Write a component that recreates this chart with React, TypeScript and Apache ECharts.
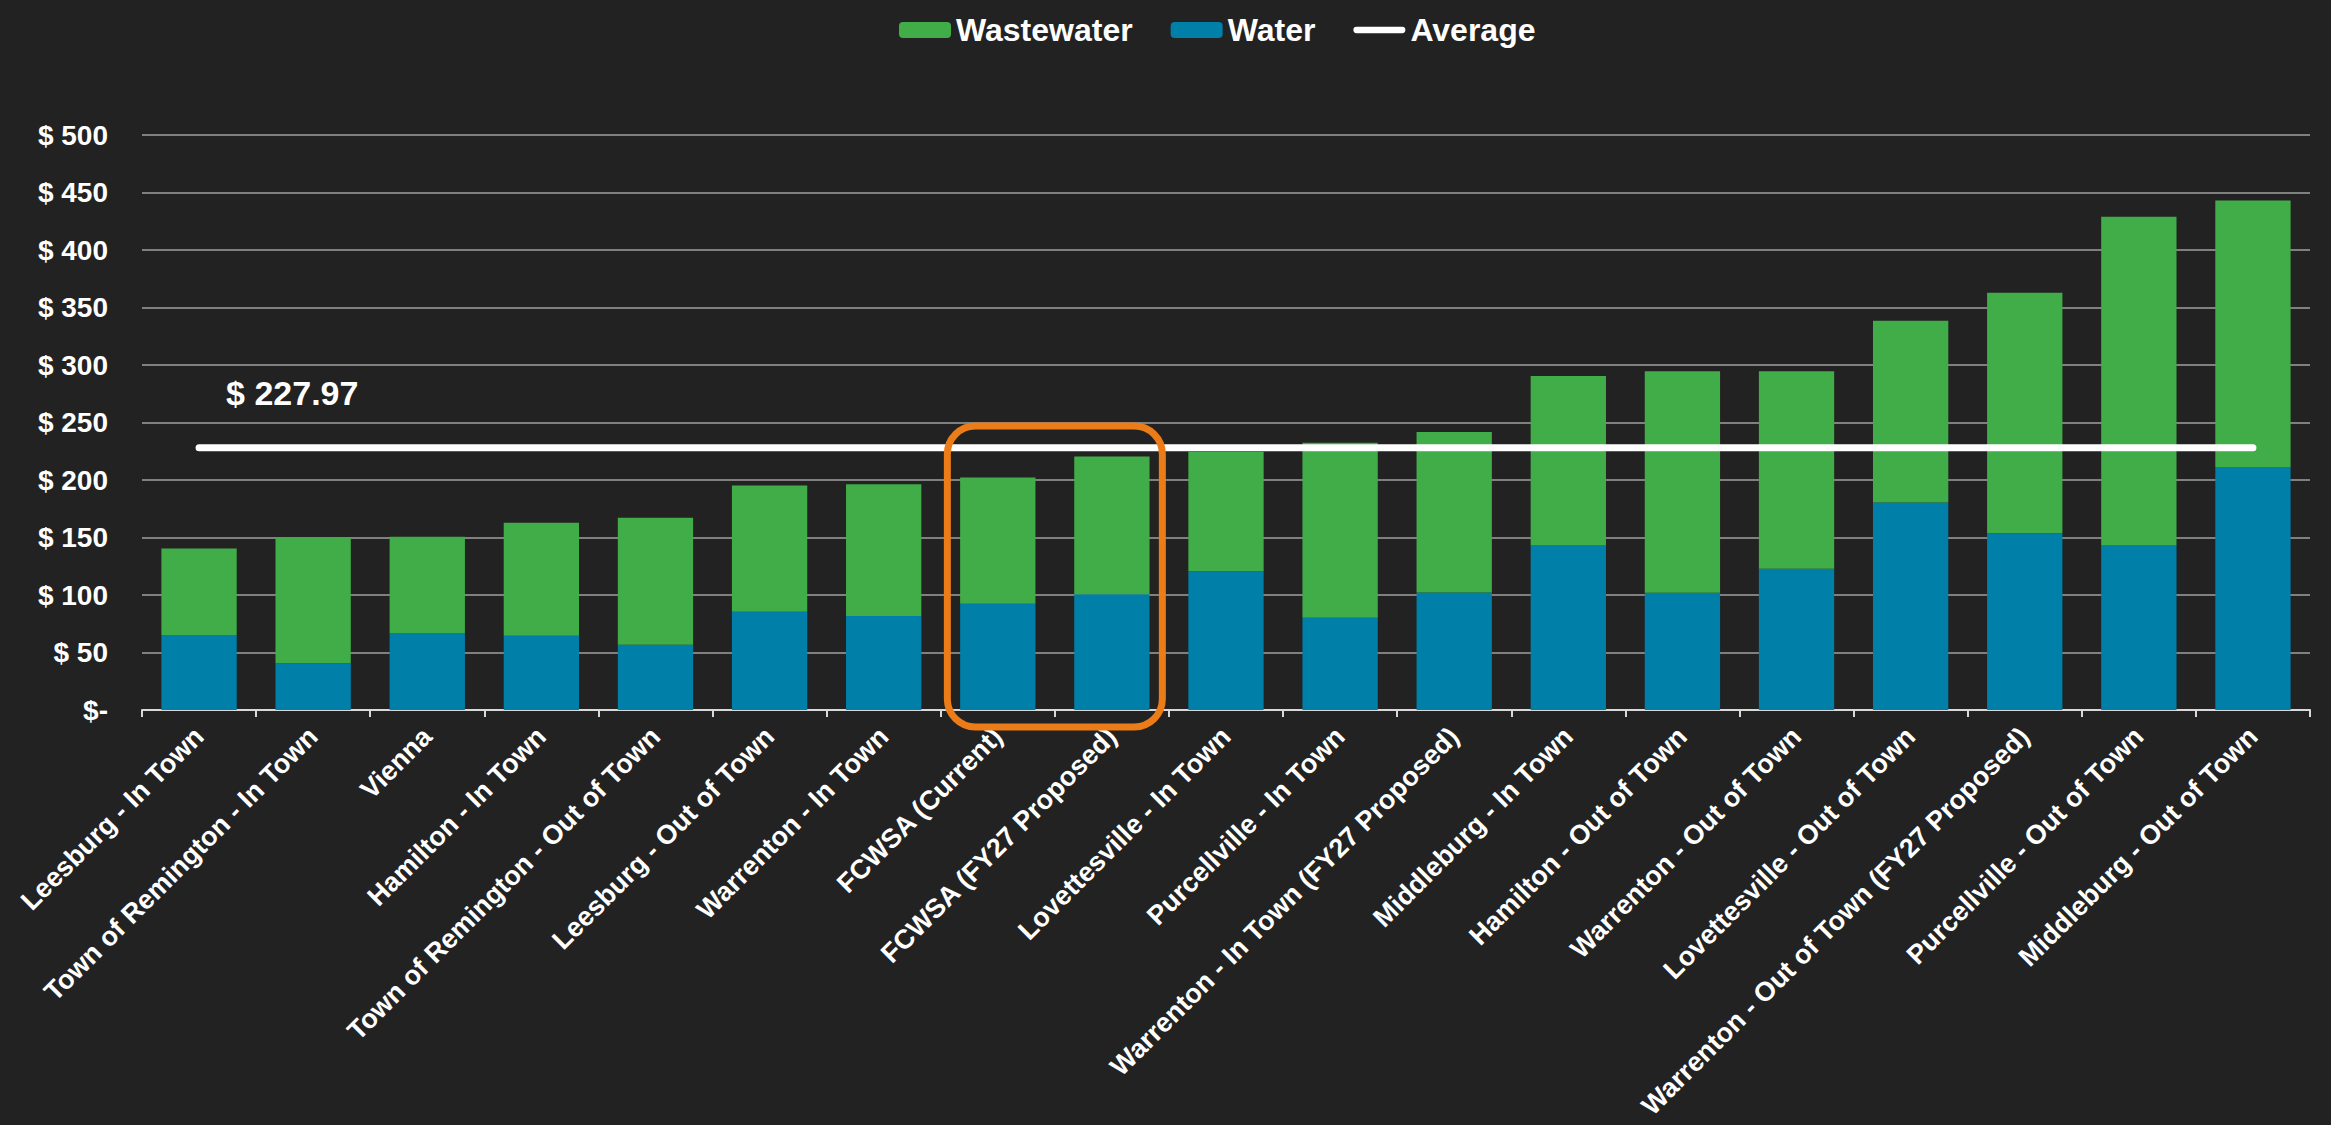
import React, { useEffect, useRef } from "react";
import * as echarts from "echarts";

const categories = [
  "Leesburg - In Town",
  "Town of Remington - In Town",
  "Vienna",
  "Hamilton - In Town",
  "Town of Remington - Out of Town",
  "Leesburg - Out of Town",
  "Warrenton - In Town",
  "FCWSA (Current)",
  "FCWSA (FY27 Proposed)",
  "Lovettesville - In Town",
  "Purcellville - In Town",
  "Warrenton - In Town (FY27 Proposed)",
  "Middleburg - In Town",
  "Hamilton - Out of Town",
  "Warrenton - Out of Town",
  "Lovettesville - Out of Town",
  "Warrenton - Out of Town (FY27 Proposed)",
  "Purcellville - Out of Town",
  "Middleburg - Out of Town",
];

const water = [65.3, 40.6, 67.0, 64.5, 56.7, 85.5, 81.7, 92.5, 100.6, 120.7, 80.3, 102.2, 143.1, 101.9, 122.8, 180.5, 153.8, 143.1, 211.2];
const wastewater = [75.1, 109.4, 83.6, 98.3, 110.5, 109.8, 114.5, 109.6, 119.8, 103.8, 152.1, 139.6, 147.4, 192.7, 171.8, 157.9, 209.0, 285.8, 231.9];
const AVERAGE = 227.97;
const yTicks = [0, 50, 100, 150, 200, 250, 300, 350, 400, 450, 500];
const highlighted = [7, 8];

const FONT = "'Liberation Sans', Arial, sans-serif";
const GREEN = "#41AD49";
const BLUE = "#007FA8";
const ORANGE = "#EC7C17";
const LINE_ICON = "path://M3.5,0 H54.5 A3.5,3.5 0 0 1 54.5,7 H3.5 A3.5,3.5 0 0 1 3.5,0 Z";

export default function App() {
  const ref = useRef<HTMLDivElement>(null);

  useEffect(() => {
    document.body.style.margin = "0";
    const chart = echarts.init(ref.current!, null, { renderer: "svg", width: 2331, height: 1125 });
    const option: any = {
      animation: false,
      backgroundColor: "#222222",
      textStyle: { fontFamily: FONT },
      legend: {
        data: ["Wastewater", "Water", { name: "Average", icon: LINE_ICON }],
        left: 894,
        top: 9,
        itemWidth: 52,
        itemHeight: 16,
        itemGap: 38,
        textStyle: { color: "#ffffff", fontSize: 32, fontWeight: "bold", fontFamily: FONT },
      },
      grid: {
        left: 142,
        width: 2168,
        top: 135,
        height: 575,
        containLabel: false,
        outerBoundsMode: "none",
      },
      xAxis: {
        type: "category",
        data: categories,
        axisLine: { show: true, lineStyle: { color: "#d9d9d9", width: 2 } },
        axisTick: { show: true, length: 7, lineStyle: { color: "#d9d9d9", width: 2 } },
        axisLabel: {
          rotate: 45,
          interval: 0,
          margin: 22,
          color: "#ffffff",
          fontSize: 27,
          fontWeight: "bold",
          fontFamily: FONT,
        },
      },
      yAxis: {
        type: "value",
        min: yTicks[0],
        max: yTicks[yTicks.length - 1],
        interval: 50,
        axisLine: { show: false },
        axisTick: { show: false },
        splitLine: { lineStyle: { color: "#808080", width: 2 } },
        axisLabel: {
          margin: 34,
          color: "#ffffff",
          fontSize: 28,
          fontWeight: "bold",
          fontFamily: FONT,
          formatter: (v: number) => (v === 0 ? "$-" : "$ " + v),
        },
      },
      series: [
        {
          name: "Water",
          type: "bar",
          stack: "total",
          data: water,
          barCategoryGap: "34%",
          itemStyle: { color: BLUE },
          z: 2,
        },
        {
          name: "Wastewater",
          type: "bar",
          stack: "total",
          data: wastewater,
          itemStyle: { color: GREEN },
          z: 2,
        },
        {
          name: "Average",
          type: "line",
          data: categories.map(() => AVERAGE),
          symbol: "none",
          showSymbol: false,
          lineStyle: { color: "#ffffff", width: 7, cap: "round" },
          itemStyle: { color: "#ffffff" },
          z: 5,
        },
      ],
    };
    chart.setOption(option);

    const pA = chart.convertToPixel({ gridIndex: 0 }, [highlighted[0], 247]) as number[];
    const pB = chart.convertToPixel({ gridIndex: 0 }, [highlighted[1], 0]) as number[];
    const avgP = chart.convertToPixel({ gridIndex: 0 }, [0, AVERAGE]) as number[];
    const cx = (pA[0] + pB[0]) / 2;
    const halfW = 107.5;
    const top = pA[1];
    const bottom = pB[1] + 17;

    chart.setOption({
      graphic: [
        {
          type: "rect",
          z: 100,
          shape: { x: cx - halfW, y: top, width: halfW * 2, height: bottom - top, r: 28 },
          style: { fill: "none", stroke: ORANGE, lineWidth: 7 },
        },
        {
          type: "text",
          z: 100,
          x: avgP[0] + 27,
          y: avgP[1] - 55,
          style: {
            text: "$ " + AVERAGE.toFixed(2),
            fill: "#ffffff",
            fontSize: 34,
            fontWeight: "bold",
            fontFamily: FONT,
            verticalAlign: "middle",
            align: "left",
          },
        },
      ],
    });

    return () => chart.dispose();
  }, []);

  return (
    <div
      ref={ref}
      style={{ position: "absolute", left: 0, top: 0, width: 2331, height: 1125, background: "#222222" }}
    />
  );
}
